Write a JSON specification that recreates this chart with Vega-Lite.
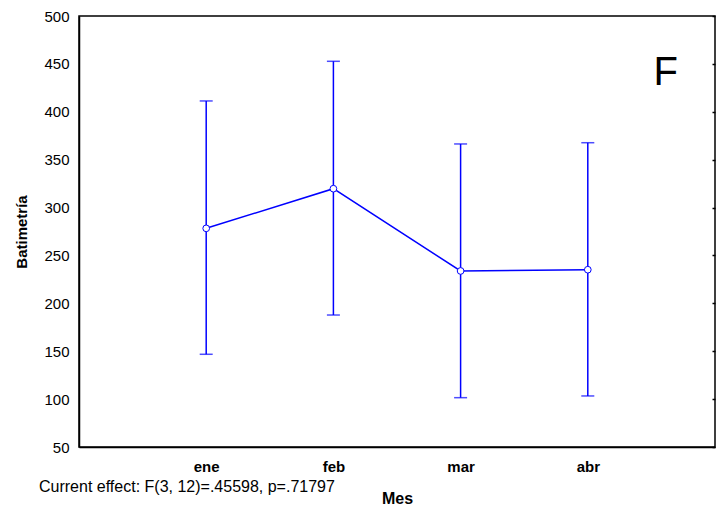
{
  "$schema": "https://vega.github.io/schema/vega-lite/v6.json",
  "autosize": "none",
  "width": 636,
  "height": 431,
  "padding": {"left": 79, "top": 16, "right": 9, "bottom": 63},
  "background": "white",
  "config": {
    "view": {"stroke": "#000000", "strokeWidth": 1.5},
    "font": "Liberation Sans",
    "axis": {"labelFont": "Liberation Sans", "titleFont": "Liberation Sans", "labelColor": "#000", "titleColor": "#000", "grid": false}
  },
  "title": {
    "text": "Current effect: F(3, 12)=.45598, p=.71797",
    "orient": "bottom",
    "anchor": "start",
    "frame": "group",
    "offset": -14,
    "dx": -40,
    "baseline": "alphabetic",
    "font": "Liberation Sans",
    "fontSize": 16,
    "fontWeight": "normal",
    "color": "#000"
  },
  "data": {
    "values": [
      {"Mes": "ene", "mean": 278.3, "lo": 146.8, "hi": 411.3},
      {"Mes": "feb", "mean": 319.7, "lo": 187.8, "hi": 452.7},
      {"Mes": "mar", "mean": 233.8, "lo": 101.5, "hi": 366.4},
      {"Mes": "abr", "mean": 235.1, "lo": 103.3, "hi": 367.7}
    ]
  },
  "encoding": {
    "x": {
      "field": "Mes", "type": "nominal", "sort": ["ene", "feb", "mar", "abr"],
      "scale": {"type": "point", "padding": 1},
      "axis": {"title": "Mes", "labelAngle": 0, "ticks": false, "tickSize": 0, "labelPadding": 12, "labelFontSize": 15, "labelFontWeight": "bold", "titleFontSize": 16, "titleFontWeight": "bold", "titlePadding": 16, "domainColor": "#000", "domainWidth": 1.5}
    }
  },
  "layer": [
    {
      "mark": {"type": "rule", "color": "#0000ff", "strokeWidth": 1.5},
      "encoding": {
        "y": {"field": "lo", "type": "quantitative", "scale": {"domain": [50, 500], "nice": false, "zero": false},
          "axis": {"orient": "left", "values": [50, 100, 150, 200, 250, 300, 350, 400, 450, 500], "ticks": false, "tickSize": 0, "labelPadding": 10, "labelFontSize": 15, "title": "Batimetría", "titleFontSize": 15, "titleFontWeight": "bold", "titlePadding": 14, "domainColor": "#000", "domainWidth": 1.5}},
        "y2": {"field": "hi"}
      }
    },
    {
      "mark": {"type": "tick", "color": "#0000ff", "thickness": 1.5, "size": 13, "orient": "horizontal"},
      "encoding": {"y": {"field": "lo", "type": "quantitative", "axis": {"orient": "right", "values": [50, 100, 150, 200, 250, 300, 350, 400, 450, 500], "labels": false, "title": null, "domain": false, "tickSize": -3, "tickColor": "#000", "tickWidth": 1.5}}}
    },
    {
      "mark": {"type": "tick", "color": "#0000ff", "thickness": 1.5, "size": 13, "orient": "horizontal"},
      "encoding": {"y": {"field": "hi", "type": "quantitative", "axis": null}}
    },
    {
      "mark": {"type": "line", "color": "#0000ff", "strokeWidth": 1.5},
      "encoding": {"y": {"field": "mean", "type": "quantitative", "axis": null}}
    },
    {
      "mark": {"type": "point", "filled": true, "fill": "white", "stroke": "#0000ff", "strokeWidth": 1, "size": 45, "opacity": 1},
      "encoding": {"y": {"field": "mean", "type": "quantitative", "axis": null}}
    },
    {
      "data": {"values": [{"label": "F"}]},
      "mark": {"type": "text", "font": "Liberation Sans", "fontSize": 40, "fontWeight": "normal", "color": "#000", "align": "center", "baseline": "middle", "dx": 78},
      "encoding": {"x": {"datum": "abr"}, "y": {"datum": 440, "axis": null}, "text": {"field": "label"}}
    }
  ],
  "resolve": {"axis": {"y": "independent"}}
}
